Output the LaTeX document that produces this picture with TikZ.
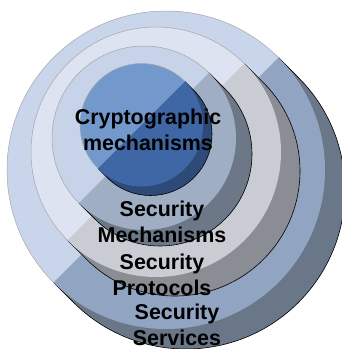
\documentclass[tikz,border=0pt]{standalone}
\usepackage{fontspec}
\setmainfont{Liberation Sans}

\definecolor{servlight}{HTML}{C8D5EA}
\definecolor{servmid}{HTML}{91A4C1}
\definecolor{servdark}{HTML}{6A7789}
\definecolor{protolight}{HTML}{DDE3F0}
\definecolor{protomid}{HTML}{C9CCD3}
\definecolor{protodark}{HTML}{8A8D94}
\definecolor{mechlight}{HTML}{C6D3E8}
\definecolor{mechmid}{HTML}{A0AEC4}
\definecolor{mechdark}{HTML}{6C7788}
\definecolor{cryptlight}{HTML}{7298CC}
\definecolor{cryptmid}{HTML}{3F67A5}
\definecolor{cryptdark}{HTML}{2D4A78}

\begin{document}
\begin{tikzpicture}[x=1bp, y=-1bp,
    rim/.style = {draw=black!35, line width=0.5bp},
    edge/.style = {draw=black, line width=0.6bp},
    ringtext/.style = {font=\fontsize{21.5}{25.5}\selectfont\bfseries, align=center, inner sep=0pt}]
            \useasboundingbox (0,0) rectangle (342,349);
            % security services
            \filldraw[servdark, edge] (166,170) ++(-45:159) -- ++(20,20) arc[start angle=-45, end angle=135, radius=159] -- ++(-20,-20);
            \filldraw[servlight, rim] (166,170) ++(-45:159) arc[start angle=-45, end angle=-225, radius=159];
            \fill[servmid] (166,170) ++(135:159) arc[start angle=135, end angle=-45, radius=159] -- cycle;
            % security protocols
            \filldraw[protodark, edge] (156,152) ++(-45:125) -- ++(19,19) arc[start angle=-45, end angle=135, radius=125] -- ++(-19,-19);
            \filldraw[protolight, rim] (156,152) ++(-45:125) arc[start angle=-45, end angle=-225, radius=125];
            \fill[protomid] (156,152) ++(135:125) arc[start angle=135, end angle=-45, radius=125] -- cycle;
            % security mechanisms
            \filldraw[mechdark, edge] (144,138) ++(-45:92) -- ++(16,16) arc[start angle=-45, end angle=135, radius=92] -- ++(-16,-16);
            \filldraw[mechlight, rim] (144,138) ++(-45:92) arc[start angle=-45, end angle=-225, radius=92];
            \fill[mechmid] (144,138) ++(135:92) arc[start angle=135, end angle=-45, radius=92] -- cycle;
            % cryptographic mechanisms
            \filldraw[cryptdark, edge] (141.5,125) ++(-45:61.5) -- ++(9,9) arc[start angle=-45, end angle=135, radius=61.5] -- ++(-9,-9);
            \filldraw[cryptlight, rim] (141.5,125) ++(-45:61.5) arc[start angle=-45, end angle=-225, radius=61.5];
            \fill[cryptmid] (141.5,125) ++(135:61.5) arc[start angle=135, end angle=-45, radius=61.5] -- cycle;

            \node[ringtext] (crypt) at (148,130) {Cryptographic\\mechanisms};
            \node[ringtext] (mech)  at (162,222) {Security\\Mechanisms};
            \node[ringtext] (proto) at (162,275) {Security\\Protocols};
            \node[ringtext] (serv)  at (177,325) {Security\\Services};
        \end{tikzpicture}
\end{document}
